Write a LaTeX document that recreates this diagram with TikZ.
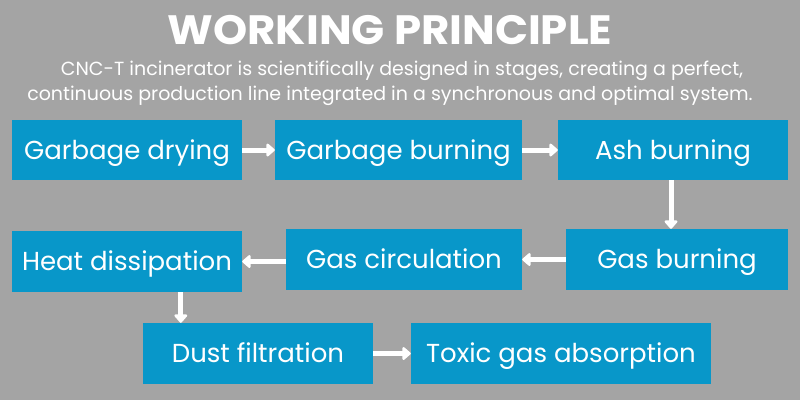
\documentclass[tikz,border=0pt]{standalone}
\usepackage{fontspec}
\setmainfont{Poppins}
\newfontfamily\titlefont[FakeStretch=1.06]{Poppins}
\usetikzlibrary{arrows.meta}
\definecolor{bggray}{HTML}{A4A4A4}
\definecolor{stageblue}{HTML}{0897C9}
\tikzset{px/.style={x=1pt,y=-1pt},
  stage/.style={fill=stageblue,text=white,font=\fontsize{26}{28}\selectfont,inner sep=0pt,
    text height=20pt,text depth=2pt,anchor=center},
  flow/.style={white,line width=5pt,-{Triangle[width=15pt,length=9pt,round]}}}

\begin{document}
\begin{tikzpicture}[px]
  \fill[bggray] (0,0) rectangle (800,400);
  \node[white,font=\titlefont\fontsize{41}{44}\selectfont\bfseries] (title) at (390,30){WORKING PRINCIPLE};
  \node[white,font=\fontsize{19}{22}\selectfont] (sub1) at (402,71){CNC-T incinerator is scientifically designed in stages, creating a perfect,};
  \node[white,font=\fontsize{19}{22}\selectfont] (sub2) at (390,96){continuous production line integrated in a synchronous and optimal system.};
  % stages, in order
  \node[stage,minimum width=230,minimum height=60] (dry) at (127,150){Garbage drying};
  \node[stage,minimum width=247,minimum height=60] (burn) at (398.5,150){Garbage burning};
  \node[stage,minimum width=230,minimum height=60] (ash) at (673,150){Ash burning};
  \node[stage,minimum width=222,minimum height=61] (gasb) at (677,259.5){Gas burning};
  \node[stage,minimum width=236,minimum height=61] (circ) at (404,259.5){Gas circulation};
  \node[stage,minimum width=230,minimum height=61] (heat) at (127,261.5){Heat dissipation};
  \node[stage,minimum width=230,minimum height=61] (dust) at (258,353.5){Dust filtration};
  \node[stage,minimum width=300,minimum height=61] (toxic) at (561,353.5){Toxic gas absorption};
  % connectors
  \draw[flow] (dry.east)--(burn.west);
  \draw[flow] (burn.east)--(ash.west);
  \draw[flow] ([xshift=-2]ash.south)--([xshift=-2]ash.south |- gasb.north);
  \draw[flow] (gasb.west)--(circ.east);
  \draw[flow] (circ.west |- heat.east)--(heat.east);
  \draw[flow] ([xshift=38]dust.north west |- heat.south)--([xshift=38]dust.north west);
  \draw[flow] (dust.east)--(toxic.west);
\end{tikzpicture}
\end{document}
